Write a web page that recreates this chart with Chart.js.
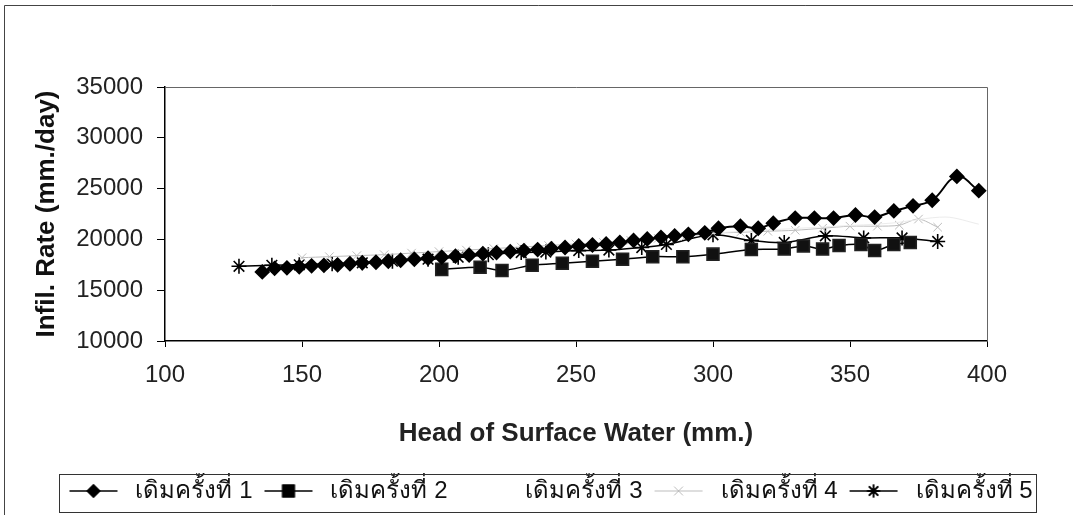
<!DOCTYPE html>
<html>
<head>
<meta charset="utf-8">
<script src="https://cdn.jsdelivr.net/npm/chart.js@4.4.1/dist/chart.umd.min.js"></script>
<style>
  html, body { margin: 0; padding: 0; background: #fff; }
  #wrap { width: 1073px; height: 515px; }
</style>
</head>
<body>
<div id="wrap"><canvas id="chart"></canvas></div>
<script>
// head of surface water (mm.) and infiltration rate (mm./day) per filling
const head1 = [135.5, 140, 144.5, 149, 153.5, 158, 163, 167.5, 172, 177, 181.5, 186, 191, 196, 201, 206, 211, 216, 221, 226, 231, 236, 241, 246, 251, 256, 261, 266, 271, 276, 281, 286, 291, 297, 302, 310, 316.5, 322, 330, 337, 344, 352, 359, 366, 373, 380, 389, 397];
const rate1 = [16800, 17150, 17200, 17300, 17400, 17450, 17500, 17600, 17700, 17750, 17850, 17950, 18050, 18150, 18250, 18350, 18450, 18600, 18700, 18800, 18900, 19000, 19100, 19200, 19350, 19450, 19550, 19700, 19900, 20050, 20200, 20350, 20500, 20650, 21100, 21300, 21100, 21600, 22100, 22100, 22100, 22400, 22200, 22800, 23300, 23850, 26200, 24800];

const head2 = [201, 215, 223, 234, 245, 256, 267, 278, 289, 300, 314, 326, 333, 340, 346, 354, 359, 366, 372];
const rate2 = [17050, 17250, 16950, 17450, 17650, 17850, 18050, 18300, 18300, 18550, 19000, 19050, 19350, 19050, 19400, 19500, 18900, 19500, 19700];

const head3 = [205, 225, 245, 265, 285, 305, 325, 345, 365, 385, 397];
const rate3 = [18600, 18900, 19300, 19700, 20200, 20700, 21000, 21300, 21600, 22200, 21500];

const head4 = [150, 160, 170, 180, 190, 200, 210, 220, 230, 240, 250, 260, 270, 280, 290, 300, 310, 320, 330, 340, 350, 360, 368, 375, 382];
const rate4 = [18200, 18300, 18400, 18500, 18650, 18800, 18950, 19100, 19250, 19400, 19550, 19700, 19900, 20100, 20300, 20600, 20700, 20800, 20900, 21100, 21300, 21300, 21400, 22000, 21200];

const head5 = [127, 139, 149, 161, 172, 183, 196, 207, 218, 230, 239, 251, 262, 274, 283, 300, 314, 326, 341, 355, 369, 382];
const rate5 = [17350, 17450, 17500, 17600, 17700, 17850, 18050, 18250, 18500, 18700, 18750, 18900, 18950, 19200, 19500, 20450, 19900, 19700, 20350, 20150, 20150, 19800];

const seriesNames = ['เดิมครั้งที่ 1', 'เดิมครั้งที่ 2', 'เดิมครั้งที่ 3', 'เดิมครั้งที่ 4', 'เดิมครั้งที่ 5'];

const xTicks = [100, 150, 200, 250, 300, 350, 400];
const yTicks = [10000, 15000, 20000, 25000, 30000, 35000];

const FONT = "'Liberation Sans', Arial, sans-serif";

function pts(xs, ys) {
  return xs.map((x, i) => ({ x: x, y: ys[i] }));
}

// legend symbol: short line with the marker in the middle
function legendSymbol(color, style, radius, lw) {
  const cv = document.createElement('canvas');
  cv.width = 50; cv.height = 16;
  const c = cv.getContext('2d');
  if (color) {
    c.strokeStyle = color; c.lineWidth = lw;
    c.beginPath(); c.moveTo(1, 8); c.lineTo(49, 8); c.stroke();
    Chart.helpers.drawPoint(c, { pointStyle: style, radius: radius, borderWidth: 1.5, rotation: 0 }, 25, 8);
    c.fillStyle = color;
    c.fill();
    c.stroke();
  }
  return cv;
}

const ctx = document.getElementById('chart');

const datasets = [
  {
    label: seriesNames[0], data: pts(head1, rate1),
    borderColor: '#000', backgroundColor: '#000', borderWidth: 2,
    pointStyle: 'rectRot', pointRadius: 6.5, tension: 0.4
  },
  {
    label: seriesNames[1], data: pts(head2, rate2),
    borderColor: '#000', backgroundColor: '#111', borderWidth: 1.5,
    pointStyle: 'rect', pointRadius: 8.5, pointBorderColor: '#222', tension: 0.3
  },
  {
    label: seriesNames[2], data: pts(head3, rate3),
    borderColor: '#ececec', backgroundColor: '#f2f2f2', borderWidth: 1,
    pointStyle: 'circle', pointRadius: 0, tension: 0.3
  },
  {
    label: seriesNames[3], data: pts(head4, rate4),
    borderColor: '#bdbdbd', backgroundColor: '#bdbdbd', borderWidth: 1,
    pointStyle: 'crossRot', pointRadius: 6, tension: 0.3
  },
  {
    label: seriesNames[4], data: pts(head5, rate5),
    borderColor: '#000', backgroundColor: '#000', borderWidth: 1.5,
    pointStyle: 'star', pointRadius: 7.5, pointBorderWidth: 1.6, tension: 0.3
  }
];

const symbols = [
  legendSymbol('#000', 'rectRot', 6, 1.5),
  legendSymbol('#000', 'rect', 8, 1.5),
  legendSymbol(null),
  legendSymbol('#bdbdbd', 'crossRot', 6, 1),
  legendSymbol('#000', 'star', 6.5, 1.5)
];

const LEGEND_CENTER = 548;

const framePlugin = {
  id: 'frame',
  afterLayout(chart) {
    // move the legend row so it sits where the original one is
    const lg = chart.legend;
    const dx = LEGEND_CENTER - (lg.left + lg.right) / 2;
    lg.left += dx;
    lg.right += dx;
  },
  beforeDraw(chart) {
    const c = chart.ctx;
    c.save();
    c.fillStyle = '#fff';
    c.fillRect(0, 0, chart.width, chart.height);
    c.strokeStyle = '#444';
    c.lineWidth = 1;
    c.beginPath();
    c.moveTo(4.5, chart.height);
    c.lineTo(4.5, 5.5);
    c.lineTo(chart.width, 5.5);
    c.stroke();
    c.restore();
  },
  afterDraw(chart) {
    const c = chart.ctx;
    const a = chart.chartArea;
    c.save();
    c.strokeStyle = '#666';
    c.lineWidth = 1;
    c.beginPath();
    c.moveTo(a.left, a.top + 0.5);
    c.lineTo(a.right + 0.5, a.top + 0.5);
    c.lineTo(a.right + 0.5, a.bottom);
    c.stroke();
    // box round the legend
    const hb = chart.legend.legendHitBoxes;
    if (hb && hb.length) {
      const last = hb[hb.length - 1];
      const l = hb[0].left - 4;
      const r = last.left + last.width + 4;
      const t = chart.legend.top + 1;
      const b = chart.legend.bottom - 1;
      c.strokeStyle = '#333';
      c.strokeRect(Math.round(l) + 0.5, Math.round(t) + 0.5, Math.round(r - l), Math.round(b - t));
    }
    c.restore();
  }
};

const config = {
  type: 'scatter',
  data: { datasets: datasets },
  options: {
    responsive: true,
    maintainAspectRatio: false,
    animation: false,
    showLine: true,
    layout: { padding: { left: 0, top: 87, right: 86, bottom: 2 } },
    font: { family: FONT },
    scales: {
      x: {
        type: 'linear', min: 100, max: 400,
        afterBuildTicks: (s) => { s.ticks = xTicks.map(v => ({ value: v })); },
        afterFit: (s) => { s.height = 132; },
        ticks: { font: { family: FONT, size: 24 }, color: '#222', padding: 14, maxRotation: 0, callback: (v) => String(v) },
        grid: { drawOnChartArea: false, drawTicks: true, tickLength: 6, color: '#000' },
        border: { color: '#000', width: 1.5 },
        title: {
          display: true, text: 'Head of Surface Water (mm.)', color: '#222',
          font: { family: FONT, size: 26, weight: 'bold' }, padding: { top: 0, bottom: 24 }
        }
      },
      y: {
        type: 'linear', min: 10000, max: 35000,
        afterBuildTicks: (s) => { s.ticks = yTicks.map(v => ({ value: v })); },
        afterFit: (s) => { s.width = 165; },
        ticks: { font: { family: FONT, size: 24 }, color: '#222', padding: 14, callback: (v) => String(v) },
        grid: { drawOnChartArea: false, drawTicks: true, tickLength: 8, color: '#000' },
        border: { color: '#000', width: 1.5 },
        title: {
          display: true, text: 'Infil. Rate (mm./day)', color: '#111',
          font: { family: FONT, size: 26, weight: 'bold' }, padding: { top: 31, bottom: 0 }
        }
      }
    },
    plugins: {
      legend: {
        position: 'bottom',
        labels: {
          usePointStyle: true,
          pointStyleWidth: 60,
          boxHeight: 16,
          padding: 6,
          color: '#111',
          font: { family: FONT, size: 24, lineHeight: 1 },
          generateLabels: (chart) => {
            const items = Chart.defaults.plugins.legend.labels.generateLabels(chart);
            items.forEach((it) => { it.pointStyle = symbols[it.datasetIndex]; });
            return items;
          }
        }
      },
      tooltip: { enabled: false }
    }
  },
  plugins: [framePlugin]
};

const myChart = new Chart(ctx, config);
</script>
</body>
</html>
